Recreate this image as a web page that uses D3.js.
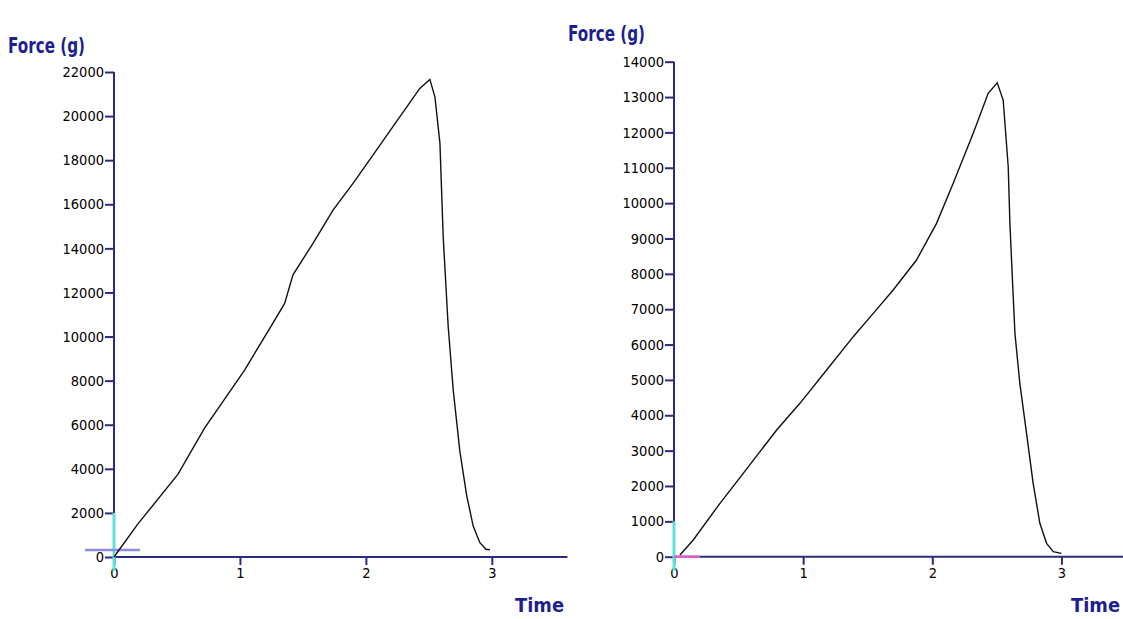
<!DOCTYPE html>
<html lang="en">
<head>
    <meta charset="UTF-8" />
    <title>Force vs Time</title>
    <style>
        body {
            margin: 0;
            background: #fff;
            overflow: hidden;
        }
        svg {
            display: block;
        }
        .tick text {
            font-family: "DejaVu Sans Condensed", "Liberation Sans Narrow", Arial, sans-serif;
            fill: #000;
        }
        .title {
            font-family: "DejaVu Sans Condensed", "Liberation Sans Narrow", Arial, sans-serif;
            font-weight: bold;
            fill: #1f1f8f;
        }
    </style>
    <script src="https://d3js.org/d3.v7.min.js"></script>
</head>
<body>
<svg id="chart" width="1123" height="619"></svg>

<script>
    // left test
    const leftTime = [0, 0.19, 0.507, 0.719, 1.037, 1.25, 1.355, 1.421, 1.58, 1.739, 1.898, 2.084, 2.269, 2.428, 2.508,
        2.548, 2.588, 2.614, 2.653, 2.693, 2.746, 2.8, 2.852, 2.905, 2.953, 2.985];
    const leftForce = [0, 1500, 3750, 5850, 8481, 10500, 11500, 12800, 14227, 15737, 16947, 18458, 19968, 21256, 21664,
        20876, 18762, 14500, 10500, 7600, 4800, 2800, 1400, 650, 350, 330];

    // right test
    const rightTime = [0.046, 0.149, 0.356, 0.536, 0.795, 0.975, 1.182, 1.388, 1.543, 1.697, 1.878, 2.033, 2.162, 2.317,
        2.433, 2.503, 2.549, 2.588, 2.601, 2.622, 2.64, 2.678, 2.73, 2.781, 2.833, 2.885, 2.937, 3.0];
    const rightForce = [50, 472, 1510, 2358, 3583, 4338, 5280, 6223, 6883, 7543, 8391, 9428, 10560, 11974,
        13105, 13404, 12915, 11030, 9428, 7731, 6317, 4903, 3489, 2075, 944, 378, 142, 95];

    const leftYTicks = [0, 2000, 4000, 6000, 8000, 10000, 12000, 14000, 16000, 18000, 20000, 22000];
    const rightYTicks = [0, 1000, 2000, 3000, 4000, 5000, 6000, 7000, 8000, 9000, 10000, 11000, 12000, 13000, 14000];
    const timeTicks = [0, 1, 2, 3];

    const svg = d3.select("#chart");
    const axisColor = "#2b2b80";

    function drawPanel(p) {
        const x = d3.scaleLinear().domain(p.xDomain).range(p.xRange);
        const y = d3.scaleLinear().domain(p.yDomain).range(p.yRange);
        const g = svg.append("g");
        const y0 = y(0);

        // y axis
        const ya = g.append("g")
            .attr("transform", `translate(${x(0)},0)`)
            .call(d3.axisLeft(y).tickValues(p.yTicks).tickSize(9).tickPadding(1).tickSizeOuter(0).tickFormat(d3.format("d")));
        ya.select(".domain").remove();
        ya.selectAll(".tick line").attr("stroke", axisColor).attr("stroke-width", 2);
        ya.selectAll(".tick text").attr("font-size", "14.5px");

        // x axis
        const xa = g.append("g")
            .attr("transform", `translate(0,${y0})`)
            .call(d3.axisBottom(x).tickValues(timeTicks).tickSize(8).tickPadding(3).tickSizeOuter(0).tickFormat(d3.format("d")));
        xa.select(".domain").remove();
        xa.selectAll(".tick line").attr("stroke", axisColor).attr("stroke-width", 2);
        xa.selectAll(".tick text").attr("font-size", "14.5px");

        g.append("line")
            .attr("x1", x(0)).attr("x2", x.range()[1])
            .attr("y1", y0).attr("y2", y0)
            .attr("stroke", axisColor).attr("stroke-width", 2);
        g.append("line")
            .attr("x1", x(0)).attr("x2", x(0))
            .attr("y1", y.range()[1]).attr("y2", y0)
            .attr("stroke", axisColor).attr("stroke-width", 2);

        // cursor marks at origin
        g.append("line")
            .attr("x1", x(0)).attr("x2", x(0))
            .attr("y1", y(p.yTicks[1])).attr("y2", y0 + 14)
            .attr("stroke", "#5fe0d8").attr("stroke-width", 3);
        g.append("line")
            .attr("x1", p.hCursor[0]).attr("x2", p.hCursor[1])
            .attr("y1", y0 + p.hCursor[2]).attr("y2", y0 + p.hCursor[2])
            .attr("stroke", p.hColor).attr("stroke-width", 2.5);

        // curve
        const line = d3.line().x(d => x(d[0])).y(d => y(d[1]));
        g.append("path")
            .datum(p.time.map((t, i) => [t, p.force[i]]))
            .attr("d", line)
            .attr("fill", "none")
            .attr("stroke", "#111")
            .attr("stroke-width", 1.4);

        g.append("text")
            .attr("class", "title")
            .attr("x", p.yLabel[0]).attr("y", p.yLabel[1])
            .attr("font-size", "22px")
            .attr("textLength", 77)
            .attr("lengthAdjust", "spacingAndGlyphs")
            .text("Force (g)");
        g.append("text")
            .attr("class", "title")
            .attr("x", p.xLabel[0]).attr("y", p.xLabel[1])
            .attr("font-size", "20px")
            .attr("textLength", 49)
            .attr("lengthAdjust", "spacingAndGlyphs")
            .text("Time");
    }

    drawPanel({
        time: leftTime, force: leftForce, yTicks: leftYTicks,
        xDomain: [0, 3.6], xRange: [114, 567.4],
        yDomain: [0, 22000], yRange: [557, 72],
        hCursor: [85, 140, -7], hColor: "#8c8ce0",
        yLabel: [8, 53], xLabel: [515, 612]
    });

    drawPanel({
        time: rightTime, force: rightForce, yTicks: rightYTicks,
        xDomain: [0, 3.5], xRange: [674, 1126],
        yDomain: [0, 14000], yRange: [556.7, 61.7],
        hCursor: [674, 700, 0], hColor: "#e060c0",
        yLabel: [568, 41], xLabel: [1071, 612]
    });
</script>
</body>
</html>
